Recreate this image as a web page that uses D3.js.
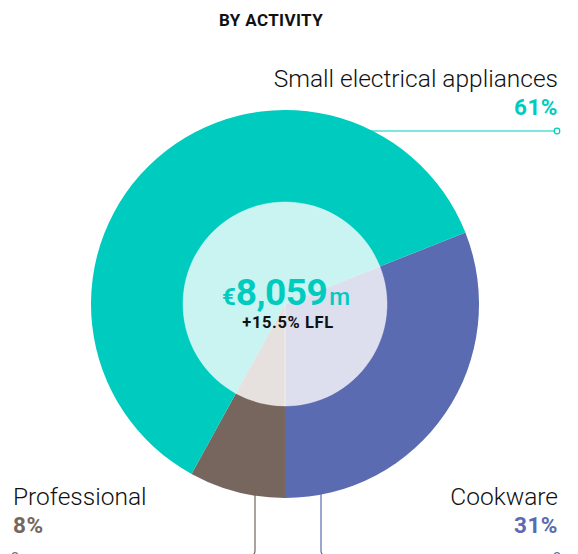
<!DOCTYPE html>
<meta charset="utf-8">
<head>
    <script type="text/javascript" src="https://cdn.jsdelivr.net/npm/d3@7"></script>
    <style>
        body { margin: 0; background: #fff; }
        text { font-family: Roboto, "DejaVu Sans", sans-serif; }
    </style>
    <title>By activity</title>
</head>
<body>
    <div id="chart"></div>
    <script type="text/javascript">

        // data
        var categories = ["Cookware", "Professional", "Small electrical appliances"];
        var shares = [31, 8, 61];
        var colors = ["#5a6bb1", "#76665e", "#00cbbf"];
        var tints = ["#dddfef", "#e6e1de", "#c9f4f1"];
        var totalLabel = ["€", "8,059", "m"];
        var growthLabel = "+15.5% LFL";

        var w = 578, h = 554;
        var cx = 285, cy = 304;
        var rOuter = 194, rInner = 102;

        var svg = d3.select("#chart")
                    .append("svg")
                    .attr("width", w)
                    .attr("height", h);

        // cookware ends straight down, so start the pie accordingly
        var start = Math.PI - shares[0] / 100 * 2 * Math.PI;
        var pie = d3.pie()
                    .sort(null)
                    .startAngle(start)
                    .endAngle(start + 2 * Math.PI);
        var arcs = pie(shares);

        var outer = d3.arc().innerRadius(0).outerRadius(rOuter);
        var inner = d3.arc().innerRadius(0).outerRadius(rInner);

        var g = svg.append("g").attr("transform", "translate(" + cx + "," + cy + ")");

        // leader lines (drawn first, below the donut)
        var lines = svg.append("g").attr("fill", "none").attr("stroke-width", 1.2);

        // small electrical: horizontal to the right
        var yS = 131;
        lines.append("line")
             .attr("x1", cx).attr("y1", yS)
             .attr("x2", 557).attr("y2", yS)
             .attr("stroke", colors[2]);
        lines.append("circle")
             .attr("cx", 557).attr("cy", yS).attr("r", 2.8)
             .attr("fill", "#fff").attr("stroke", colors[2]);

        // bottom leaders: down then sideways with a rounded corner
        function bottomLeader(x, toX, col) {
            var yTop = cy + Math.sqrt(rOuter * rOuter - (x - cx) * (x - cx)) - 4;
            var yH = 555.5, rc = 5, dir = toX < x ? -1 : 1;
            var p = d3.path();
            p.moveTo(x, yTop);
            p.lineTo(x, yH - rc);
            p.quadraticCurveTo(x, yH, x + dir * rc, yH);
            p.lineTo(toX, yH);
            lines.append("path").attr("d", p.toString()).attr("stroke", col);
            lines.append("circle")
                 .attr("cx", toX).attr("cy", yH).attr("r", 2.8)
                 .attr("fill", "#fff").attr("stroke", col);
        }
        bottomLeader(255, 15, colors[1]);
        bottomLeader(321, 557, colors[0]);

        g.selectAll("path.outer")
         .data(arcs)
         .enter()
         .append("path")
         .attr("class", "outer")
         .attr("d", outer)
         .attr("fill", function(d, i) { return colors[i]; });

        g.selectAll("path.inner")
         .data(arcs)
         .enter()
         .append("path")
         .attr("class", "inner")
         .attr("d", inner)
         .attr("fill", function(d, i) { return tints[i]; })
         .attr("stroke", "rgba(255,255,255,0.6)")
         .attr("stroke-width", 0.6);

        // centre label
        var t = svg.append("text")
                   .attr("x", cx + 1).attr("y", 305)
                   .attr("text-anchor", "middle")
                   .attr("fill", colors[2])
                   .attr("font-weight", 700);
        t.append("tspan").attr("font-size", 24).text(totalLabel[0]);
        t.append("tspan").attr("font-size", 37).attr("letter-spacing", -0.5).text(totalLabel[1]);
        t.append("tspan").attr("font-size", 24).attr("font-weight", 500).attr("dx", 2).text(totalLabel[2]);

        svg.append("text")
           .attr("x", cx + 3).attr("y", 328)
           .attr("text-anchor", "middle")
           .attr("font-size", 16.5)
           .attr("font-weight", 700)
           .attr("letter-spacing", 0.6)
           .attr("fill", "#111")
           .text(growthLabel);

        // title
        svg.append("text")
           .attr("x", 271).attr("y", 26)
           .attr("text-anchor", "middle")
           .attr("font-size", 17)
           .attr("font-weight", 700)
           .attr("letter-spacing", 0.4)
           .attr("fill", "#111")
           .text("BY ACTIVITY");

        // category labels
        var labels = [
            { x: 558, y: 505, anchor: "end" },
            { x: 13, y: 505, anchor: "start" },
            { x: 558, y: 87, anchor: "end" }
        ];
        labels.forEach(function(l, i) {
            svg.append("text")
               .attr("x", l.x).attr("y", l.y)
               .attr("text-anchor", l.anchor)
               .attr("font-size", 24.5)
               .attr("font-weight", 300)
               .attr("fill", "#111")
               .text(categories[i]);
            svg.append("text")
               .attr("x", l.x).attr("y", l.y + 28)
               .attr("text-anchor", l.anchor)
               .attr("font-size", 22.5)
               .attr("font-weight", 700)
               .attr("letter-spacing", 0.5)
               .attr("fill", colors[i])
               .text(shares[i] + "%");
        });

    </script>
</body>
</html>
